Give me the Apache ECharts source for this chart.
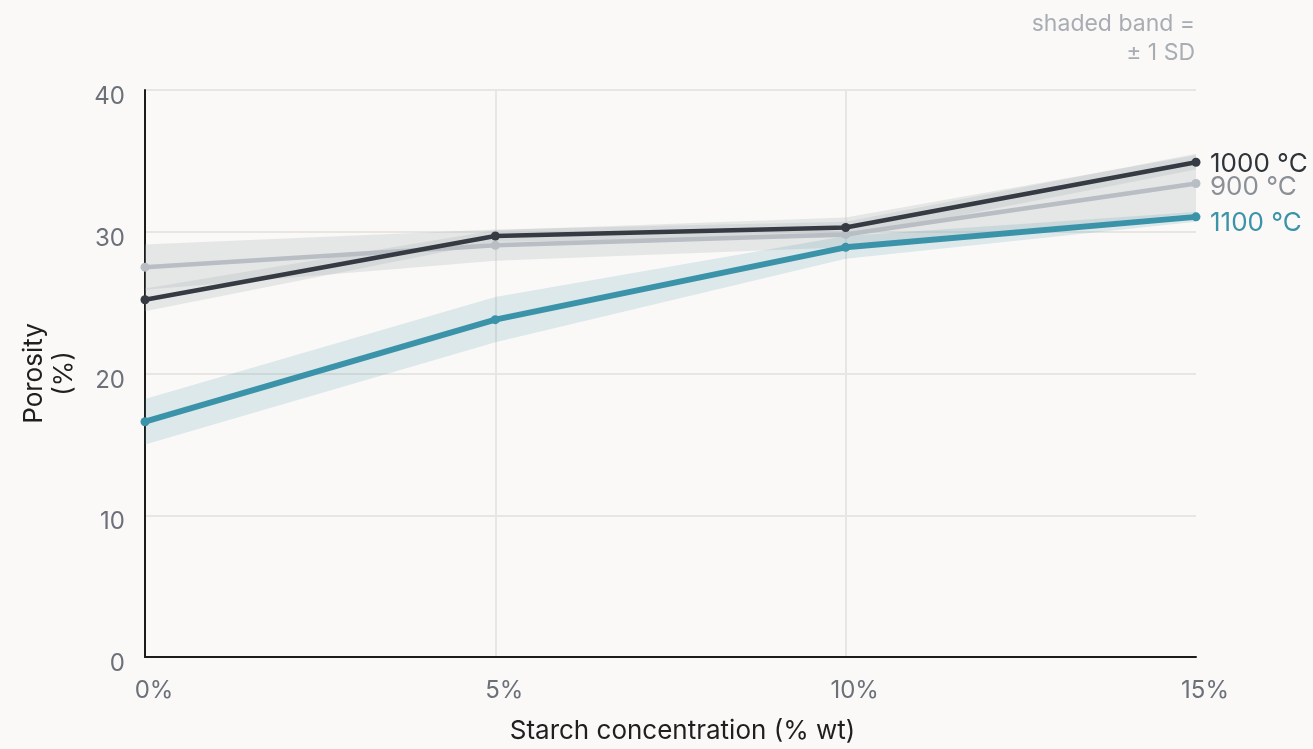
<!DOCTYPE html>
<html><head><meta charset="utf-8">
<script src="https://cdn.jsdelivr.net/npm/echarts@6/dist/echarts.min.js"></script>
<style>html,body{margin:0;padding:0;background:#faf9f7;}#c{width:1313px;height:749px;}</style>
</head><body><div id="c"></div>
<script>
const categories = ['0%', '5%', '10%', '15%'];
const yTicks = [0, 10, 20, 30, 40];
const t900 = [27.5, 29.05, 29.8, 33.4];
const sd900 = [1.6, 1.1, 0.9, 2.1];
const t1000 = [25.2, 29.7, 30.3, 34.9];
const sd1000 = [0.8, 0.4, 0.7, 0.5];
const t1100 = [16.6, 23.8, 28.9, 31.05];
const sd1100 = [1.6, 1.6, 0.8, 0.35];
const seriesNames = ['900 °C', '1000 °C', '1100 °C'];

const FONT = 'Inter, "Noto Sans", sans-serif';
const lo = (m, s) => m.map((v, i) => +(v - s[i]).toFixed(3));
const span = s => s.map(v => +(2 * v).toFixed(3));

function band(id, m, s, color) {
  return [
    { type: 'line', stack: id, data: lo(m, s), symbol: 'none', lineStyle: { opacity: 0 }, silent: true, z: 1 },
    { type: 'line', stack: id, data: span(s), symbol: 'none', lineStyle: { opacity: 0 }, areaStyle: { color: color, opacity: 1 }, silent: true, z: 1 }
  ];
}
function line(name, data, color, width, labelColor, dy) {
  return {
    type: 'line', name: name, data: data, symbol: 'circle', symbolSize: 9,
    itemStyle: { color: color }, lineStyle: { color: color, width: width }, z: 3,
    endLabel: { show: true, formatter: name, color: labelColor, fontSize: 26, fontFamily: FONT, distance: 14, offset: [0, dy] }
  };
}

const chart = echarts.init(document.getElementById('c'), null, { renderer: 'canvas' });
chart.setOption({
  backgroundColor: '#faf9f7',
  animation: false,
  grid: { left: 145, right: 117, top: 90, bottom: 88 },
  graphic: [
    { type: 'text', right: 118, top: 13, style: { text: 'shaded band =', fill: '#a8adb3', font: '23px ' + FONT } },
    { type: 'text', right: 118, top: 42, style: { text: '± 1 SD', fill: '#a8adb3', font: '23px ' + FONT } }
  ],
  xAxis: {
    type: 'category', data: categories, boundaryGap: false,
    axisLine: { lineStyle: { color: '#1c1c1c', width: 2 } },
    axisTick: { show: false },
    axisLabel: { color: '#6b7079', fontSize: 24, fontFamily: FONT, margin: 22, padding: [0, 0, 0, 18] },
    splitLine: { show: true, interval: (i) => i > 0 && i < categories.length - 1, lineStyle: { color: '#e8e6e3', width: 2 } },
    name: 'Starch concentration (% wt)', nameLocation: 'middle', nameGap: 61,
    nameTextStyle: { color: '#1f1f1f', fontSize: 26, fontFamily: FONT, padding: [0, 0, 0, 24] }
  },
  yAxis: {
    type: 'value', min: yTicks[0], max: yTicks[yTicks.length - 1], interval: 10,
    axisLine: { show: true, lineStyle: { color: '#1c1c1c', width: 2 } },
    axisTick: { show: false },
    axisLabel: { color: '#6b7079', fontSize: 24, fontFamily: FONT, margin: 20, verticalAlign: 'top', lineHeight: 14 },
    splitLine: { lineStyle: { color: '#e8e6e3', width: 2 } },
    name: 'Porosity\n(%)', nameLocation: 'middle', nameGap: 66, nameRotate: 90,
    nameTextStyle: { color: '#1f1f1f', fontSize: 26, fontFamily: FONT, lineHeight: 30 }
  },
  series: [
    ...band('b900', t900, sd900, 'rgba(175,182,186,0.28)'),
    ...band('b1000', t1000, sd1000, 'rgba(175,182,186,0.28)'),
    ...band('b1100', t1100, sd1100, 'rgba(70,150,170,0.17)'),
    line(seriesNames[0], t900, '#b8bec4', 4.5, '#8a9096', 4),
    line(seriesNames[1], t1000, '#363a43', 4.5, '#2f333a', 2),
    line(seriesNames[2], t1100, '#3b93a9', 6, '#3b93a9', 6)
  ]
});
</script></body></html>
